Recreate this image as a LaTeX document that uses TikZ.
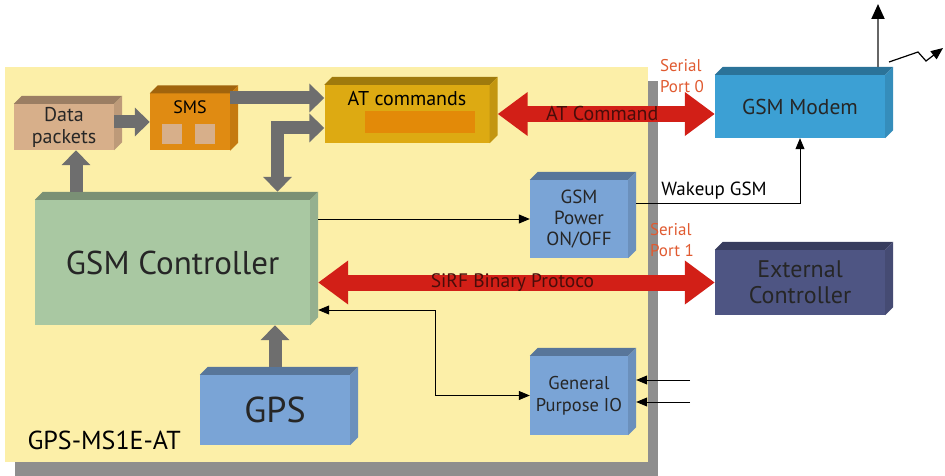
\documentclass[tikz,border=0pt]{standalone}
\usepackage{fontspec}
\setmainfont{PT Sans}
\usetikzlibrary{arrows.meta,positioning,shadows}
\definecolor{boardbg}{HTML}{FCEFA8}
\definecolor{boardgray}{HTML}{8E8E8E}
\definecolor{datatan}{HTML}{D7AF8A}
\definecolor{smsorange}{HTML}{E08B12}
\definecolor{atgold}{HTML}{DDAA12}
\definecolor{atbar}{HTML}{E38A08}
\definecolor{ctrlgreen}{HTML}{A9C8A2}
\definecolor{blockblue}{HTML}{7AA4D6}
\definecolor{modemblue}{HTML}{3CA0D4}
\definecolor{extslate}{HTML}{4E5583}
\definecolor{fatgray}{HTML}{6E6E6E}
\definecolor{busred}{HTML}{D21F17}
\definecolor{portred}{HTML}{E05A30}
\definecolor{buslabel}{HTML}{4A0D0A}
\newcommand\extrude[2]{%
  \fill[#2!72!black] (#1.north west) -- ++(8,-8) -- ([shift={(8,-8)}]#1.north east) -- (#1.north east) -- cycle;
  \fill[#2!88!black] (#1.north east) -- ([shift={(8,-8)}]#1.north east) -- ([shift={(8,-8)}]#1.south east) -- (#1.south east) -- cycle;}

\begin{document}
\begin{tikzpicture}[x=1pt,y=-1pt,
    blk/.style={fill=#1, inner sep=0pt, align=center, text=black!85},
    fathead/.tip={Triangle[width=28pt,length=15pt]},
    redhead/.tip={Triangle[width=42pt,length=30pt]},
    sighead/.tip={Triangle[width=9pt,length=11pt]},
    fat/.style={draw=fatgray, line width=13pt},
    bus/.style={draw=busred, line width=16pt, redhead-redhead},
    sig/.style={draw=black, line width=0.8pt, -sighead},
    port/.style={text=portred, align=left, font=\fontsize{17}{21}\selectfont}]
   \useasboundingbox (0,0) rectangle (945,476);
   \node [fill=boardbg, inner sep=0pt, minimum width=643pt, minimum height=395pt,
          drop shadow={shadow xshift=10pt, shadow yshift=-14pt, fill=boardgray, opacity=1}] (board) at (326.5,264.5) {};
   \node [font=\fontsize{26}{30}\selectfont, anchor=base west] (model) at (24,449) {GPS-MS1E-AT};

   \node [blk=datatan, minimum width=100pt, minimum height=46pt, font=\fontsize{20}{22}\selectfont] (data) at (64,127) {Data\\packets};
   \node [blk=smsorange, minimum width=80pt, minimum height=57pt] (sms) at (190,122) {};
   \node [font=\fontsize{18}{20}\selectfont] (smstxt) at ([yshift=-14pt]sms.north) {SMS};
   \node [fill=datatan, minimum size=20pt, inner sep=0pt] (msg1) at (172,134) {};
   \node [fill=datatan, minimum size=20pt, inner sep=0pt] (msg2) at (205,134) {};
   \node [blk=atgold, minimum width=165pt, minimum height=58pt] (atcmd) at (407,114) {};
   \node [font=\fontsize{20}{22}\selectfont] (attxt) at ([yshift=-14pt]atcmd.north) {AT commands};
   \node [fill=atbar, minimum width=110pt, minimum height=22pt, inner sep=0pt] (atbar) at (420,122) {};
   \node [blk=ctrlgreen, minimum width=275pt, minimum height=125pt, font=\fontsize{33}{36}\selectfont] (ctrl) at (172.5,262.5) {GSM Controller};
   \node [blk=blockblue, minimum width=98pt, minimum height=78pt, font=\fontsize{19}{21}\selectfont] (pwr) at (579,219) {GSM\\Power\\ON/OFF};
   \node [blk=modemblue, minimum width=170pt, minimum height=63pt, font=\fontsize{21.5}{24}\selectfont] (modem) at (800,106.5) {GSM Modem};
   \node [blk=extslate, minimum width=170pt, minimum height=65pt, font=\fontsize{24}{26}\selectfont] (ext) at (800,282.5) {External\\Controller};
   \node [blk=blockblue, minimum width=150pt, minimum height=70pt, font=\fontsize{36}{40}\selectfont] (gps) at (275,410) {GPS};
   \node [blk=blockblue, minimum width=98pt, minimum height=79pt, font=\fontsize{18.5}{22}\selectfont] (gpio) at (579,395.5) {General\\Purpose IO};
   \extrude{data}{datatan}
   \extrude{sms}{smsorange}
   \extrude{atcmd}{atgold}
   \extrude{ctrl}{ctrlgreen}
   \extrude{pwr}{blockblue}
   \extrude{modem}{modemblue}
   \extrude{ext}{extslate}
   \extrude{gps}{blockblue}
   \extrude{gpio}{blockblue}

   \draw [fat, -fathead] ([xshift=12pt,yshift=8pt]data.south |- ctrl.north) -- ([xshift=12pt]data.south);
   \draw [fat, -fathead] (sms.west -| data.east) -- (sms.west);
   \draw [fat, -fathead] ([yshift=24pt]sms.east) -- ([yshift=24pt]sms.east -| atcmd.west);
   \draw [fat, fathead-fathead] ([xshift=105pt,yshift=8pt]ctrl.north) |- ([yshift=-14pt]atcmd.west);
   \draw [fat, -fathead] ([yshift=8pt]gps.north) -- (gps.north |- ctrl.south);

   \draw [bus, shorten <=8pt] (atcmd.east) -- (atcmd.east -| modem.west)
         node [midway, text=buslabel, font=\fontsize{20}{22}\selectfont] {AT Command};
   \draw [bus, shorten <=8pt] (ext.west -| ctrl.east) -- (ext.west)
         node [midway, text=buslabel, font=\fontsize{19.5}{22}\selectfont] {SiRF Binary Protoco};
   \node [port] (sp0) at (682,76) {Serial\\Port 0};
   \node [port] (sp1) at (672,240) {Serial\\Port 1};

   \draw [sig, shorten <=8pt] (pwr.west -| ctrl.east) -- (pwr.west);
   \draw [sig, shorten <=8pt] ([yshift=16pt]pwr.east) -| (modem.south)
         node [pos=0.25, above, font=\fontsize{19}{21}\selectfont] {Wakeup GSM};
   \coordinate (bend) at (435,310);
   \draw [sig, sighead-sighead, shorten >=8pt] (gpio.west) -| (bend) -- (bend -| ctrl.east);
   \coordinate (in1) at (690,380);
   \coordinate (in2) at (690,402);
   \draw [sig, shorten >=8pt] (in1) -- (in1 -| gpio.east);
   \draw [sig, shorten >=8pt] (in2) -- (in2 -| gpio.east);

   \coordinate (ant) at (878,4);
   \draw [draw=black!60, line width=2pt, -{Triangle[width=13pt,length=15pt,black]}] ([xshift=78pt,yshift=8pt]modem.north) -- (ant);
   \coordinate (z0) at (889,62);
   \coordinate (z1) at (918,52);
   \coordinate (z2) at (926,61);
   \coordinate (z3) at (943,48);
   \draw [line width=1.2pt, -{Triangle[width=10pt,length=12pt]}] (z0) -- (z1) -- (z2) -- (z3);
\end{tikzpicture}
\end{document}
